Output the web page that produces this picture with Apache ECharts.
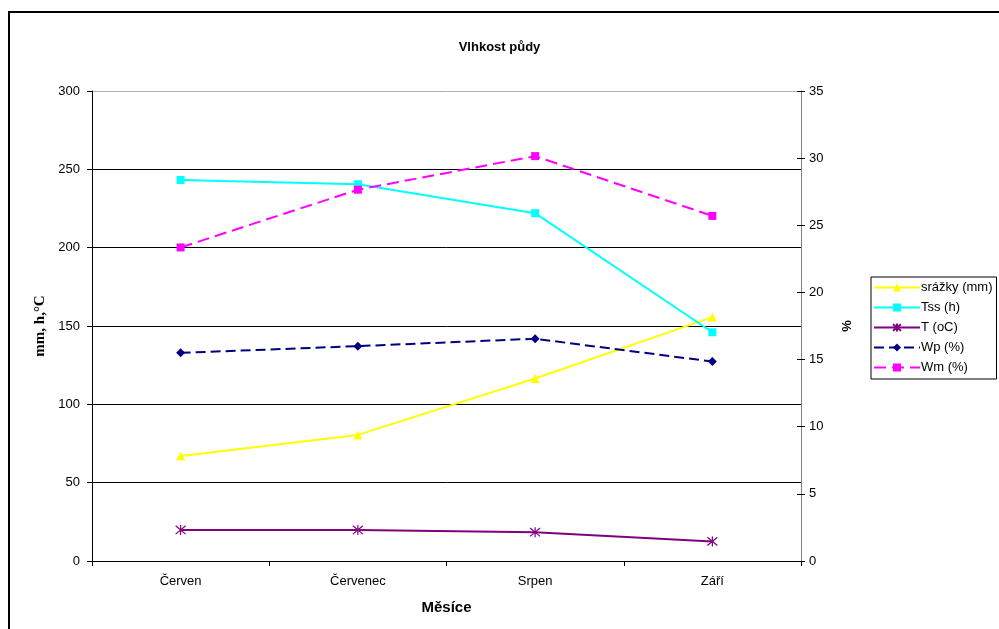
<!DOCTYPE html>
<html>
<head>
<meta charset="utf-8">
<title>Vlhkost půdy</title>
<script src="https://cdn.jsdelivr.net/npm/echarts@6/dist/echarts.min.js"></script>
<style>
  html, body { margin: 0; padding: 0; background: #fff; }
  #chart { width: 999px; height: 629px; }
</style>
</head>
<body>
<div id="chart"></div>
<script>
// Months on the category axis
const months = ['Červen', 'Červenec', 'Srpen', 'Září'];

// Left axis series (mm, h, °C)
const srazky = [67, 80.5, 116.5, 155.7];
const tss = [243.2, 240.5, 222, 146];
const teplota = [19.8, 19.8, 18.4, 12.5];

// Right axis series (%)
const wp = [15.5, 16.0, 16.55, 14.85];
const wm = [23.35, 27.65, 30.15, 25.7];

// Axis ranges
const leftMax = 300, leftStep = 50;
const rightMax = 35, rightStep = 5;

const FONT = '"Liberation Sans", Arial, sans-serif';

// asterisk marker for the temperature series
const asterisk = 'path://M0,0L10,10M10,0L0,10M5,-1L5,11';

const chart = echarts.init(document.getElementById('chart'), null, { renderer: 'canvas' });

const leftSplitColors = [];
for (let v = 0; v <= leftMax; v += leftStep) {
  leftSplitColors.push(v === leftMax ? '#b0b0b0' : '#000000');
}

chart.setOption({
  backgroundColor: '#ffffff',
  animation: false,
  textStyle: { fontFamily: FONT },
  title: {
    text: 'Vlhkost půdy',
    left: 'center',
    top: 36,
    textStyle: { fontFamily: FONT, fontSize: 13, fontWeight: 'bold', color: '#000' }
  },
  graphic: [{
    type: 'rect',
    shape: { x: 9, y: 12, width: 1000, height: 700 },
    style: { fill: 'none', stroke: '#000', lineWidth: 2 },
    silent: true,
    z: 100
  }],
  legend: {
    orient: 'vertical',
    left: 871,
    top: 277,
    backgroundColor: '#fff',
    borderColor: '#000',
    borderWidth: 1,
    borderRadius: 0,
    padding: [4, 4, 5, 2],
    itemWidth: 46,
    itemHeight: 10,
    itemGap: 7,
    textStyle: { fontFamily: FONT, fontSize: 13, color: '#000', padding: [0, 0, 0, -4] },
    data: ['srážky (mm)', 'Tss (h)', 'T (oC)', 'Wp (%)', 'Wm (%)']
  },
  grid: { left: 92, right: 198, top: 91, bottom: 68, containLabel: false },
  xAxis: {
    type: 'category',
    data: months,
    boundaryGap: true,
    name: 'Měsíce',
    nameLocation: 'middle',
    nameGap: 39,
    nameTextStyle: { fontFamily: FONT, fontSize: 15, fontWeight: 'bold', color: '#000' },
    axisLine: { lineStyle: { color: '#000', width: 1 } },
    axisTick: { show: true, length: 5, alignWithLabel: false, lineStyle: { color: '#000' } },
    axisLabel: { fontFamily: FONT, fontSize: 13, color: '#000', margin: 14 },
    splitLine: { show: false }
  },
  yAxis: [{
    type: 'value',
    position: 'left',
    min: 0,
    max: leftMax,
    interval: leftStep,
    name: 'mm, h,°C',
    nameLocation: 'middle',
    nameGap: 42,
    nameRotate: 90,
    nameTextStyle: { fontFamily: '"Liberation Serif", "Times New Roman", serif', fontSize: 15, fontWeight: 'bold', color: '#000' },
    axisLine: { show: true, lineStyle: { color: '#000', width: 1 } },
    axisTick: { show: true, length: 5, lineStyle: { color: '#000' } },
    axisLabel: { fontFamily: FONT, fontSize: 13, color: '#000', margin: 12 },
    splitLine: { show: true, lineStyle: { color: leftSplitColors, width: 1 } }
  }, {
    type: 'value',
    position: 'right',
    min: 0,
    max: rightMax,
    interval: rightStep,
    name: '%',
    nameLocation: 'middle',
    nameGap: 40,
    nameRotate: 90,
    nameTextStyle: { fontFamily: FONT, fontSize: 13, fontWeight: 'bold', color: '#000' },
    axisLine: { show: true, lineStyle: { color: '#808080', width: 1 } },
    axisTick: { show: true, length: 4, lineStyle: { color: '#000' } },
    axisLabel: { fontFamily: FONT, fontSize: 13, color: '#000', margin: 8 },
    splitLine: { show: false }
  }, {
    // inner half of the right-hand cross ticks
    type: 'value',
    position: 'right',
    min: 0,
    max: rightMax,
    interval: rightStep,
    axisLine: { show: false },
    axisTick: { show: true, inside: true, length: 4, lineStyle: { color: '#000' } },
    axisLabel: { show: false },
    splitLine: { show: false }
  }],
  series: [{
    name: 'srážky (mm)',
    type: 'line',
    yAxisIndex: 0,
    data: srazky,
    symbol: 'triangle',
    symbolSize: 9,
    lineStyle: { color: '#ffff00', width: 2 },
    itemStyle: { color: '#ffff00' },
    z: 3
  }, {
    name: 'Tss (h)',
    type: 'line',
    yAxisIndex: 0,
    data: tss,
    symbol: 'rect',
    symbolSize: 8,
    lineStyle: { color: '#00ffff', width: 2 },
    itemStyle: { color: '#00ffff' },
    z: 3
  }, {
    name: 'T (oC)',
    type: 'line',
    yAxisIndex: 0,
    data: teplota,
    symbol: asterisk,
    symbolSize: 10,
    lineStyle: { color: '#800080', width: 2 },
    itemStyle: { color: 'rgba(0,0,0,0)', borderColor: '#800080', borderWidth: 1.2 },
    z: 3
  }, {
    name: 'Wp (%)',
    type: 'line',
    yAxisIndex: 1,
    data: wp,
    symbol: 'diamond',
    symbolSize: 9,
    lineStyle: { color: '#000080', width: 2, type: [10, 5] },
    itemStyle: { color: '#000080' },
    z: 3
  }, {
    name: 'Wm (%)',
    type: 'line',
    yAxisIndex: 1,
    data: wm,
    symbol: 'rect',
    symbolSize: 8,
    lineStyle: { color: '#ff00ff', width: 2, type: [12, 6] },
    itemStyle: { color: '#ff00ff' },
    z: 3
  }]
});
</script>
</body>
</html>
